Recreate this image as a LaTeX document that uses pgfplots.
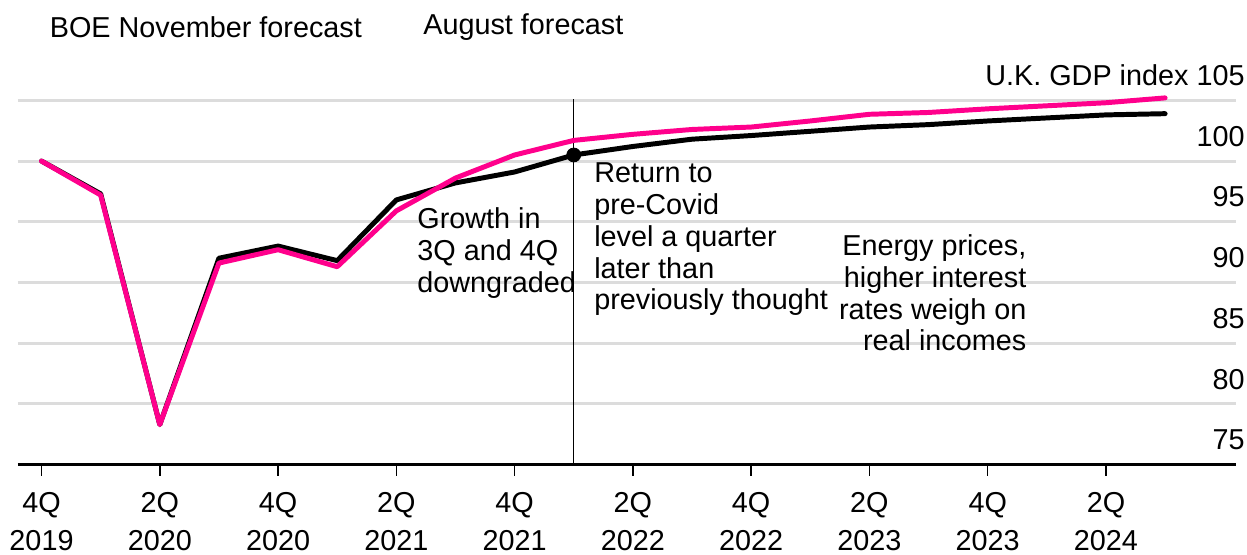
\documentclass[border=0pt]{standalone}
\usepackage{pgfplots}
\pgfplotsset{compat=1.18}
\usepackage{fontspec}
\setmainfont{Liberation Sans}
\definecolor{boepink}{RGB}{255,0,140}
\definecolor{gridgray}{RGB}{220,220,220}

\begin{document}
\begin{tikzpicture}
  \begin{axis}[
    scale only axis,
    width=613.5pt, height=183.5pt,
    xmin=-0.4, xmax=20.2, ymin=75, ymax=105,
    clip=false,
    axis x line*=bottom,
    axis y line*=right,
    y axis line style={draw=none},
    x axis line style={line width=1.5pt, -},
    ytick={75,80,...,105},
    yticklabels={75,80,85,90,95,100,U.K. GDP index 105},
    ymajorgrids,
    grid style={line width=1.5pt, color=gridgray},
    ytick style={draw=none},
    yticklabel style={anchor=base east, inner sep=0pt, xshift=-1pt, yshift=7.5pt},
    xtick={0,2,...,18},
    xticklabels={{4Q\\2019},{2Q\\2020},{4Q\\2020},{2Q\\2021},{4Q\\2021},
                 {2Q\\2022},{4Q\\2022},{2Q\\2023},{4Q\\2023},{2Q\\2024}},
    xticklabel style={align=center, anchor=north, inner sep=0pt, yshift=-8.5pt},
    tick align=outside,
    xtick style={line width=0.75pt, black},
    major tick length=5.5pt,
    every tick label/.append style={font=\fontsize{14.5}{19}\selectfont},
  ]
    % bounding box of the whole picture
    \path (axis cs:-0.702,67.64) rectangle (axis cs:20.234,113.26);

    % 1Q 2022 marker line
    \addplot[black, line width=0.75pt] coordinates {(9,75) (9,105.1)};

    % August forecast
    \addplot[black, line width=2.5pt, line cap=round, line join=round] coordinates {
      (0,100.0) (1,97.3) (2,78.3) (3,92.0) (4,93.0) (5,91.8) (6,96.8)
      (7,98.2) (8,99.1) (9,100.5) (10,101.2) (11,101.8) (12,102.1)
      (13,102.45) (14,102.8) (15,103.0) (16,103.3) (17,103.55)
      (18,103.8) (19,103.9)
    };
    % BOE November forecast
    \addplot[boepink, line width=2.5pt, line cap=round, line join=round] coordinates {
      (0,100.0) (1,97.2) (2,78.3) (3,91.6) (4,92.7) (5,91.3) (6,95.9)
      (7,98.6) (8,100.5) (9,101.7) (10,102.2) (11,102.6) (12,102.8)
      (13,103.3) (14,103.85) (15,104.0) (16,104.3) (17,104.55)
      (18,104.8) (19,105.2)
    };
    \addplot[only marks, mark=*, mark size=3.5pt, black] coordinates {(9,100.5)};

    \node[anchor=west, inner sep=0pt, font=\fontsize{14.5}{16}\selectfont]
      at (axis cs:0.134,111.05) {BOE November forecast};
    \node[anchor=west, inner sep=0pt, font=\fontsize{14.5}{16}\selectfont]
      at (axis cs:6.45,111.05) {August forecast};

    \node[anchor=west, align=left, inner sep=0pt, font=\fontsize{14.5}{16}\selectfont]
      at (axis cs:6.35,92.41) {Growth in\\3Q and 4Q\\downgraded};
    \node[anchor=west, align=left, inner sep=0pt, font=\fontsize{14.5}{16}\selectfont]
      at (axis cs:9.34,93.55) {Return to\\pre-Covid\\level a quarter\\later than\\previously thought};
    \node[anchor=east, align=right, inner sep=0pt, font=\fontsize{14.5}{16}\selectfont]
      at (axis cs:16.66,89.14) {Energy prices,\\higher interest\\rates weigh on\\real incomes};
  \end{axis}
\end{tikzpicture}
\end{document}
